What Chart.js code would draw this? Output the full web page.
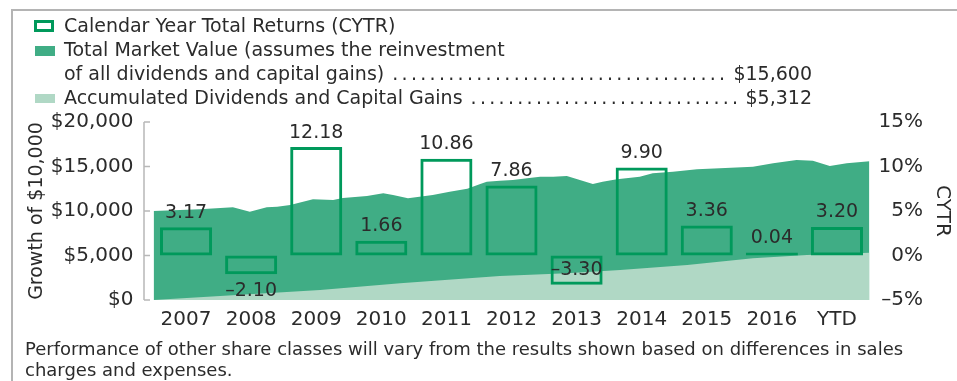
<!DOCTYPE html>
<html>
<head>
<meta charset="utf-8">
<script src="https://cdn.jsdelivr.net/npm/chart.js@4.4.1/dist/chart.umd.min.js"></script>
<style>
  body { margin: 0; background: #fff; font-family: "DejaVu Sans", sans-serif; color: #2b2b2b; }
  #wrap { position: relative; width: 957px; height: 381px; overflow: hidden; }
  #chart { position: absolute; left: 0; top: 0; }
  .frame { position: absolute; left: 11px; top: 9px; width: 946px; height: 372px; box-sizing: border-box;
           border-left: 2px solid #b4b4b4; border-top: 2px solid #b4b4b4; }
  .row { position: absolute; left: 64px; font-size: 19px; line-height: 24px; white-space: nowrap; }
  .lead { display: flex; width: 748px; }
  .dots { flex: 1; overflow: hidden; letter-spacing: 3.3px; margin: 0 4px 0 8px; }
  .key { position: absolute; left: 35px; width: 20px; box-sizing: border-box; }
  .note { position: absolute; left: 25px; top: 338px; font-size: 18px; line-height: 21px; white-space: nowrap; }
</style>
</head>
<body>
<div id="wrap">
  <canvas id="chart" width="957" height="381"></canvas>
  <div class="frame"></div>

  <div class="key" style="left:34px; top:20px; height:12px; border:3px solid #00995b; background:#fff;"></div>
  <div class="row" style="top:13px;">Calendar Year Total Returns (CYTR)</div>

  <div class="key" style="top:46px; height:10px; background:#40ad85;"></div>
  <div class="row" style="top:37px;">Total Market Value (assumes the reinvestment</div>
  <div class="row lead" style="top:61px;"><span>of all dividends and capital gains)</span><span class="dots"></span><span id="tmvEnd"></span></div>

  <div class="key" style="top:94px; height:9px; background:#b0d8c5;"></div>
  <div class="row lead" style="top:85px;"><span>Accumulated Dividends and Capital Gains</span><span class="dots"></span><span id="divEnd"></span></div>

  <div class="note">Performance of other share classes will vary from the results shown based on differences in sales<br>charges and expenses.</div>
</div>
<script>
// calendar years and their total returns (%)
const years = ['2007', '2008', '2009', '2010', '2011', '2012', '2013', '2014', '2015', '2016', 'YTD'];
const cytr = [3.17, -2.10, 12.18, 1.66, 10.86, 7.86, -3.30, 9.90, 3.36, 0.04, 3.20];

// growth of $10,000: position along the time axis (in years from start) and value
const tmvAt = [0, 0.71, 1.22, 1.48, 1.74, 1.90, 2.10, 2.45, 2.76, 2.91, 3.28, 3.53, 3.68, 3.91, 4.29, 4.55,
               4.82, 5.02, 5.12, 5.32, 5.52, 5.74, 5.94, 6.14, 6.35, 6.55, 6.75, 6.90, 7.12, 7.47, 7.67,
               7.98, 8.35, 8.70, 9.21, 9.52, 9.88, 10.13, 10.39, 10.65, 11];
const tmvValue = [10000, 10190, 10420, 9920, 10420, 10480, 10670, 11310, 11240, 11460, 11690, 11990, 11800, 11430, 11800, 12170,
                  12510, 13030, 13290, 13400, 13480, 13670, 13850, 13850, 13930, 13480, 13030, 13290, 13560, 13850, 14240,
                  14420, 14690, 14800, 14980, 15360, 15730, 15650, 15060, 15360, 15600];

// accumulated dividends and capital gains
const divAt = [0, 2.56, 3.79, 5.32, 6.35, 7.17, 8.20, 9.21, 10.04, 11];
const divValue = [0, 1120, 1880, 2700, 3000, 3370, 3930, 4690, 5060, 5312];

const growthTicks = [0, 5000, 10000, 15000, 20000];
const cytrTicks = [-5, 0, 5, 10, 15];

const GREEN = '#00995b';
const DARK = '#40ad85';
const LIGHT = '#b0d8c5';
const INK = '#2b2b2b';
const FAMILY = '"DejaVu Sans", sans-serif';

const money = v => '$' + v.toLocaleString('en-US');
const signed = (v, digits) => (v < 0 ? '\u2013' : '') + Math.abs(v).toFixed(digits);
const pairs = (xs, ys) => xs.map((x, i) => ({ x, y: ys[i] }));

document.getElementById('tmvEnd').textContent = money(tmvValue[tmvValue.length - 1]);
document.getElementById('divEnd').textContent = money(divValue[divValue.length - 1]);
document.querySelectorAll('.dots').forEach(el => { el.textContent = '.'.repeat(120); });

// the left axis is a thin bracket with inward ticks, sitting a little off the plot
const axisBracket = {
  id: 'axisBracket',
  beforeDatasetsDraw(chart) {
    const { ctx, chartArea, scales: { y } } = chart;
    const x0 = chartArea.left - 9.5;
    ctx.save();
    ctx.strokeStyle = '#b8b8b8';
    ctx.lineWidth = 1.5;
    ctx.beginPath();
    ctx.moveTo(x0, y.getPixelForValue(growthTicks[0]));
    ctx.lineTo(x0, y.getPixelForValue(growthTicks[growthTicks.length - 1]));
    growthTicks.forEach(v => {
      const py = y.getPixelForValue(v);
      ctx.moveTo(x0, py);
      ctx.lineTo(x0 + 6, py);
    });
    ctx.stroke();
    ctx.restore();
  }
};

// return figures above positive bars, below negative ones (inside if no room)
const barValues = {
  id: 'barValues',
  afterDatasetsDraw(chart) {
    const { ctx, chartArea } = chart;
    const meta = chart.getDatasetMeta(0);
    ctx.save();
    ctx.font = '19px ' + FAMILY;
    ctx.fillStyle = INK;
    ctx.textAlign = 'center';
    ctx.textBaseline = 'middle';
    meta.data.forEach((bar, i) => {
      const v = cytr[i];
      let ty;
      if (v >= 0) {
        ty = bar.y - 14.5;
      } else {
        ty = bar.y + 17;
        if (ty > chartArea.bottom) ty = bar.y - 15;
      }
      ctx.fillText(signed(v, 2), bar.x, ty);
    });
    ctx.restore();
  }
};

new Chart(document.getElementById('chart'), {
  type: 'bar',
  data: {
    labels: years,
    datasets: [
      {
        type: 'bar', label: 'Calendar Year Total Returns (CYTR)', data: cytr,
        xAxisID: 'x', yAxisID: 'y1', grouped: false,
        backgroundColor: 'rgba(0,0,0,0)', borderColor: GREEN, borderWidth: 3, borderSkipped: false,
        barPercentage: 0.8, categoryPercentage: 1, minBarLength: 3, order: 0
      },
      {
        type: 'line', label: 'Accumulated Dividends and Capital Gains', data: pairs(divAt, divValue),
        xAxisID: 'x2', yAxisID: 'y',
        fill: 'origin', backgroundColor: LIGHT, borderWidth: 0, pointRadius: 0, order: 1
      },
      {
        type: 'line', label: 'Total Market Value', data: pairs(tmvAt, tmvValue),
        xAxisID: 'x2', yAxisID: 'y',
        fill: 'origin', backgroundColor: DARK, borderWidth: 0, pointRadius: 0, order: 2
      }
    ]
  },
  options: {
    responsive: false,
    animation: false,
    devicePixelRatio: 1,
    layout: { padding: { left: 26, right: 34, top: 122, bottom: 47 } },
    plugins: { legend: { display: false }, tooltip: { enabled: false } },
    scales: {
      x: {
        type: 'category', offset: true,
        grid: { display: false, drawTicks: false }, border: { display: false },
        ticks: { color: INK, font: { family: FAMILY, size: 20 }, padding: 8, maxRotation: 0 },
        afterFit: s => { s.height = 34; }
      },
      x2: { type: 'linear', display: false, offset: false, min: 0, max: 11 },
      y: {
        position: 'left', min: 0, max: 20000,
        afterBuildTicks: s => { s.ticks = growthTicks.map(value => ({ value })); },
        grid: { display: false, drawTicks: false }, border: { display: false },
        ticks: { color: INK, font: { family: FAMILY, size: 20 }, padding: 20, callback: v => money(v) },
        title: { display: true, text: 'Growth of $10,000', color: INK, font: { family: FAMILY, size: 19 }, padding: 0 },
        afterFit: s => { s.width = 127.5; }
      },
      y1: {
        position: 'right', min: -5, max: 15,
        afterBuildTicks: s => { s.ticks = cytrTicks.map(value => ({ value })); },
        grid: { display: false, drawTicks: false }, border: { display: false },
        ticks: { color: INK, font: { family: FAMILY, size: 20 }, crossAlign: 'far', callback: v => signed(v, 0) + '%' },
        title: { display: true, text: 'CYTR', color: INK, font: { family: FAMILY, size: 20 }, padding: { top: -31, bottom: 0 } },
        afterFit: s => { s.width = 53.5; }
      }
    }
  },
  plugins: [axisBracket, barValues]
});
</script>
</body>
</html>
